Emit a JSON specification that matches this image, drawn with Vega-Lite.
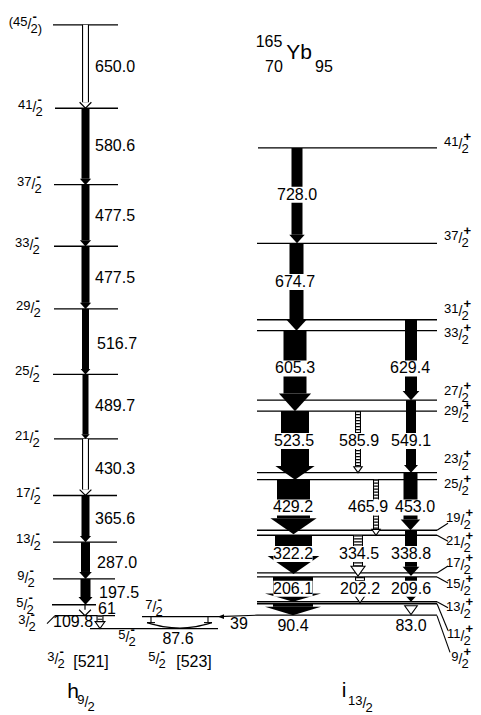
{
  "$schema": "https://vega.github.io/schema/vega-lite/v6.json",
  "width": 481,
  "height": 715,
  "autosize": {"type": "fit", "contains": "padding"},
  "padding": 0,
  "background": "white",
  "config": {"view": {"stroke": null}, "font": "Liberation Sans", "text": {"font": "Liberation Sans"}},
  "resolve": {"scale": {"strokeWidth": "independent", "size": "independent", "shape": "independent"}},
  "datasets": {
    "levels": [
      {"x1": 53, "x2": 118, "y": 25}, {"x1": 55, "x2": 118, "y": 109}, {"x1": 54, "x2": 118, "y": 186},
      {"x1": 54, "x2": 118, "y": 248}, {"x1": 54, "x2": 118, "y": 311}, {"x1": 53, "x2": 118, "y": 377},
      {"x1": 54, "x2": 118, "y": 442}, {"x1": 53, "x2": 117, "y": 499}, {"x1": 53, "x2": 117, "y": 546},
      {"x1": 53, "x2": 115, "y": 583}, {"x1": 52, "x2": 96, "y": 609}, {"x1": 55, "x2": 115, "y": 620},
      {"x1": 90, "x2": 218, "y": 633}, {"x1": 142, "x2": 218, "y": 621},
      {"x1": 258, "x2": 437, "y": 149}, {"x1": 257, "x2": 437, "y": 245}, {"x1": 257, "x2": 437, "y": 322},
      {"x1": 257, "x2": 437, "y": 333}, {"x1": 257, "x2": 437, "y": 403}, {"x1": 257, "x2": 437, "y": 414},
      {"x1": 257, "x2": 437, "y": 476}, {"x1": 257, "x2": 437, "y": 483}, {"x1": 257, "x2": 437, "y": 534},
      {"x1": 257, "x2": 437, "y": 539}, {"x1": 257, "x2": 437, "y": 577}, {"x1": 257, "x2": 437, "y": 581},
      {"x1": 257, "x2": 437, "y": 606}, {"x1": 257, "x2": 437, "y": 608}, {"x1": 257, "x2": 437, "y": 619.5}
    ],
    "segments": [
      {"x": 437, "y": 534, "x2": 448, "y2": 527}, {"x": 437, "y": 539, "x2": 448, "y2": 545},
      {"x": 437, "y": 577, "x2": 448, "y2": 570}, {"x": 437, "y": 581, "x2": 448, "y2": 587},
      {"x": 437, "y": 606, "x2": 448, "y2": 612}, {"x": 437, "y": 608, "x2": 448, "y2": 635},
      {"x": 437, "y": 620, "x2": 450, "y2": 657}, {"x": 47, "y": 628, "x2": 55, "y2": 620},
      {"x": 218, "y": 621, "x2": 257, "y2": 619.5},
      {"x": 151, "y": 621, "x2": 151, "y2": 627}, {"x": 208, "y": 621, "x2": 208, "y2": 627},
      {"x": 147, "y": 627, "x2": 155, "y2": 627}, {"x": 204, "y": 627, "x2": 212, "y2": 627}
    ],
    "curve": [
      {"i": 0, "x": 147, "y": 627}, {"i": 1, "x": 163, "y": 631}, {"i": 2, "x": 180, "y": 632.5},
      {"i": 3, "x": 196, "y": 631}, {"i": 4, "x": 212, "y": 627}
    ],
    "ptr": [{"x": 218, "y": 621}],
    "gammas": [
      {"x": 85.5, "y1": 25, "yb": 103, "I": 7, "type": "hollow", "hd": "v", "E": "650.0", "lx": 95, "ly": 67, "band": "h"},
      {"x": 85.5, "y1": 109, "yb": 180, "I": 8, "type": "solid", "hd": "tri", "E": "580.6", "lx": 95, "ly": 147, "band": "h"},
      {"x": 85.5, "y1": 186, "yb": 242, "I": 8, "type": "solid", "hd": "tri", "E": "477.5", "lx": 95, "ly": 218, "band": "h"},
      {"x": 85.5, "y1": 248, "yb": 305, "I": 8, "type": "solid", "hd": "tri", "E": "477.5", "lx": 95, "ly": 280, "band": "h"},
      {"x": 85.5, "y1": 311, "yb": 371.6, "I": 7, "type": "solid", "hd": "tri", "E": "516.7", "lx": 97, "ly": 346, "band": "h"},
      {"x": 85.5, "y1": 377, "yb": 437.4, "I": 6, "type": "solid", "hd": "tri", "E": "489.7", "lx": 95, "ly": 409, "band": "h"},
      {"x": 85.5, "y1": 442, "yb": 493, "I": 7, "type": "hollow", "hd": "v", "E": "430.3", "lx": 95, "ly": 472, "band": "h"},
      {"x": 85.5, "y1": 499, "yb": 539.8, "I": 8, "type": "solid", "hd": "tri", "E": "365.6", "lx": 95, "ly": 523, "band": "h"},
      {"x": 85.5, "y1": 546, "yb": 576, "I": 9, "type": "solid", "hd": "tri", "E": "287.0", "lx": 97, "ly": 567, "band": "h"},
      {"x": 85.5, "y1": 583, "yb": 601.3, "I": 10, "type": "solid", "hd": "tri", "E": "197.5", "lx": 99, "ly": 597, "band": "h"},
      {"x": 85, "y1": 609, "yb": 614, "I": 7, "type": "thin", "hd": "v", "E": "61", "lx": 98, "ly": 613, "band": "h"},
      {"x": 100, "y1": 620, "yb": 626, "I": 7, "type": "hatched", "hd": "open", "E": "109.8", "lx": 53, "ly": 626, "band": "h"},
      {"x": 297, "y1": 149, "yb": 236.5, "I": 11, "type": "solid", "hd": "tri", "E": "728.0", "lx": 297, "ly": 196, "band": "i"},
      {"x": 296.5, "y1": 245, "yb": 322.2, "I": 14, "type": "solid", "hd": "tri", "E": "674.7", "lx": 295, "ly": 284, "band": "i"},
      {"x": 295, "y1": 333, "yb": 396.3, "I": 23, "type": "solid", "hd": "tri", "E": "605.3", "lx": 295, "ly": 371, "band": "i"},
      {"x": 295, "y1": 414, "yb": 469.3, "I": 28, "type": "solid", "hd": "wide", "E": "523.5", "lx": 294, "ly": 444, "band": "i"},
      {"x": 293.5, "y1": 483, "yb": 521.8, "I": 33, "type": "solid", "hd": "wide", "E": "429.2", "lx": 293, "ly": 511, "band": "i"},
      {"x": 293.5, "y1": 539, "yb": 559.9, "I": 37, "type": "solid", "hd": "wide", "E": "322.2", "lx": 293, "ly": 558, "band": "i"},
      {"x": 293, "y1": 581, "yb": 597.6, "I": 40, "type": "solid", "hd": "flat", "E": "206.1", "lx": 293, "ly": 593, "band": "i"},
      {"x": 293, "y1": 608, "yb": 611, "I": 40, "type": "solid", "hd": "flat", "E": "90.4", "lx": 293, "ly": 630, "band": "i"},
      {"x": 411, "y1": 322, "yb": 393.8, "I": 12, "type": "solid", "hd": "tri", "E": "629.4", "lx": 410, "ly": 371, "band": "i"},
      {"x": 411, "y1": 403, "yb": 468.3, "I": 10, "type": "solid", "hd": "tri", "E": "549.1", "lx": 411, "ly": 444, "band": "i"},
      {"x": 410.5, "y1": 476, "yb": 523.2, "I": 14, "type": "solid", "hd": "tri", "E": "453.0", "lx": 415, "ly": 511, "band": "i"},
      {"x": 411, "y1": 534, "yb": 570.8, "I": 12, "type": "solid", "hd": "tri", "E": "338.8", "lx": 411, "ly": 558, "band": "i"},
      {"x": 411, "y1": 581, "yb": 596.8, "I": 12, "type": "solid", "hd": "tri", "E": "209.6", "lx": 411, "ly": 593, "band": "i"},
      {"x": 411, "y1": 608, "yb": 610, "I": 9, "type": "none", "hd": "open", "E": "83.0", "lx": 411, "ly": 630, "band": "i"},
      {"x": 358, "y1": 414, "yb": 470.1, "I": 6, "type": "hatched", "hd": "open", "E": "585.9", "lx": 359, "ly": 444, "band": "i"},
      {"x": 376, "y1": 483, "yb": 533.1, "I": 6, "type": "hatched", "hd": "open", "E": "465.9", "lx": 368, "ly": 511, "band": "i"},
      {"x": 358, "y1": 539, "yb": 570.2, "I": 10, "type": "hatched", "hd": "open", "E": "334.5", "lx": 359, "ly": 558, "band": "i"},
      {"x": 360, "y1": 581, "yb": 597.2, "I": 10, "type": "hatched", "hd": "open", "E": "202.2", "lx": 360, "ly": 593, "band": "i"},
      {"x": 180, "y1": 621, "yb": 627, "I": 1, "type": "none", "hd": "none", "E": "87.6", "lx": 178, "ly": 643, "band": "g"},
      {"x": 240, "y1": 620, "yb": 620, "I": 1, "type": "none", "hd": "none", "E": "39", "lx": 239, "ly": 628, "band": "g"}
    ],
    "spins": [
      {"s": 29, "y": 25, "n": "(45", "d": "2)", "g": "-"},
      {"s": 34, "y": 109, "n": "41", "d": "2", "g": "-"},
      {"s": 33, "y": 186, "n": "37", "d": "2", "g": "-"},
      {"s": 31, "y": 248, "n": "33", "d": "2", "g": "-"},
      {"s": 32, "y": 311, "n": "29", "d": "2", "g": "-"},
      {"s": 31, "y": 377, "n": "25", "d": "2", "g": "-"},
      {"s": 31, "y": 442, "n": "21", "d": "2", "g": "-"},
      {"s": 32, "y": 499, "n": "17", "d": "2", "g": "-"},
      {"s": 32, "y": 546, "n": "13", "d": "2", "g": "-"},
      {"s": 26, "y": 583, "n": "9", "d": "2", "g": "-"},
      {"s": 25, "y": 610, "n": "5", "d": "2", "g": "-"},
      {"s": 27, "y": 627, "n": "3", "d": "2", "g": "-"},
      {"s": 56, "y": 665, "n": "3", "d": "2", "g": "-"},
      {"s": 157, "y": 665, "n": "5", "d": "2", "g": "-"},
      {"s": 127, "y": 642, "n": "5", "d": "2", "g": "-"},
      {"s": 154, "y": 612, "n": "7", "d": "2", "g": "-"},
      {"s": 86, "y": 708, "n": "9", "d": "2", "g": ""},
      {"s": 364, "y": 709, "n": "13", "d": "2", "g": ""},
      {"s": 460, "y": 146, "n": "41", "d": "2", "g": "+"},
      {"s": 460, "y": 241, "n": "37", "d": "2", "g": "+"},
      {"s": 460, "y": 314, "n": "31", "d": "2", "g": "+"},
      {"s": 460, "y": 338, "n": "33", "d": "2", "g": "+"},
      {"s": 460, "y": 397, "n": "27", "d": "2", "g": "+"},
      {"s": 460, "y": 417, "n": "29", "d": "2", "g": "+"},
      {"s": 460, "y": 465, "n": "23", "d": "2", "g": "+"},
      {"s": 460, "y": 490, "n": "25", "d": "2", "g": "+"},
      {"s": 462, "y": 525, "n": "19", "d": "2", "g": "+"},
      {"s": 462, "y": 548, "n": "21", "d": "2", "g": "+"},
      {"s": 462, "y": 570, "n": "17", "d": "2", "g": "+"},
      {"s": 462, "y": 591, "n": "15", "d": "2", "g": "+"},
      {"s": 462, "y": 614, "n": "13", "d": "2", "g": "+"},
      {"s": 462, "y": 641, "n": "11", "d": "2", "g": "+"},
      {"s": 460, "y": 665, "n": "9", "d": "2", "g": "+"}
    ],
    "texts": [
      {"x": 269, "y": 42, "t": "165", "k": "s"},
      {"x": 274, "y": 67, "t": "70", "k": "s"},
      {"x": 299, "y": 53, "t": "Yb", "k": "b"},
      {"x": 324, "y": 67, "t": "95", "k": "s"},
      {"x": 91, "y": 667, "t": "[521]", "k": "s"},
      {"x": 194, "y": 667, "t": "[523]", "k": "s"},
      {"x": 73, "y": 697, "t": "h", "k": "b"},
      {"x": 344, "y": 696, "t": "i", "k": "b"}
    ]
  },
  "layer": [
    {
      "data": {"name": "levels"},
      "mark": {"type": "rule", "color": "black", "strokeWidth": 1.3},
      "encoding": {
        "x": {"field": "x1", "type": "quantitative", "scale": {"domain": [0, 481], "nice": false, "zero": false}, "axis": null},
        "x2": {"field": "x2"},
        "y": {"field": "y", "type": "quantitative", "scale": {"domain": [0, 715], "reverse": true, "nice": false, "zero": false}, "axis": null}
      }
    },
    {
      "data": {"name": "segments"},
      "mark": {"type": "rule", "color": "black", "strokeWidth": 1.1},
      "encoding": {
        "x": {"field": "x", "type": "quantitative", "scale": {"domain": [0, 481], "nice": false, "zero": false}, "axis": null},
        "x2": {"field": "x2"},
        "y": {"field": "y", "type": "quantitative", "scale": {"domain": [0, 715], "reverse": true, "nice": false, "zero": false}, "axis": null},
        "y2": {"field": "y2"}
      }
    },
    {
      "data": {"name": "curve"},
      "mark": {"type": "line", "color": "black", "strokeWidth": 1.1, "interpolate": "monotone"},
      "encoding": {
        "x": {"field": "x", "type": "quantitative", "scale": {"domain": [0, 481], "nice": false, "zero": false}, "axis": null},
        "y": {"field": "y", "type": "quantitative", "scale": {"domain": [0, 715], "reverse": true, "nice": false, "zero": false}, "axis": null},
        "order": {"field": "i", "type": "quantitative"}
      }
    },
    {
      "data": {"name": "ptr"},
      "mark": {"type": "point", "filled": true, "opacity": 1, "color": "black", "size": 36, "shape": "M0,0L2,-0.8L2,0.8Z"},
      "encoding": {
        "x": {"field": "x", "type": "quantitative", "scale": {"domain": [0, 481], "nice": false, "zero": false}, "axis": null},
        "y": {"field": "y", "type": "quantitative", "scale": {"domain": [0, 715], "reverse": true, "nice": false, "zero": false}, "axis": null}
      }
    },
    {
      "data": {"name": "gammas"},
      "transform": [{"filter": "datum.type == 'solid' || datum.type == 'hollow' || datum.type == 'hatched'"}],
      "mark": {"type": "rule", "color": "black", "strokeCap": "butt"},
      "encoding": {
        "x": {"field": "x", "type": "quantitative", "scale": {"domain": [0, 481], "nice": false, "zero": false}, "axis": null},
        "y": {"field": "y1", "type": "quantitative", "scale": {"domain": [0, 715], "reverse": true, "nice": false, "zero": false}, "axis": null},
        "y2": {"field": "yb"},
        "strokeWidth": {"field": "I", "type": "quantitative", "scale": {"type": "linear", "domain": [0, 60], "range": [0, 60], "zero": false, "nice": false}, "legend": null}
      }
    },
    {
      "data": {"name": "gammas"},
      "transform": [{"filter": "datum.type == 'hollow' || datum.type == 'hatched'"}],
      "mark": {"type": "rule", "color": "white", "strokeCap": "butt"},
      "encoding": {
        "x": {"field": "x", "type": "quantitative", "scale": {"domain": [0, 481], "nice": false, "zero": false}, "axis": null},
        "y": {"field": "y1", "type": "quantitative", "scale": {"domain": [0, 715], "reverse": true, "nice": false, "zero": false}, "axis": null},
        "y2": {"field": "yb"},
        "strokeWidth": {"field": "I", "type": "quantitative", "scale": {"type": "linear", "domain": [0, 60], "range": [-2.2, 57.8], "zero": false, "nice": false}, "legend": null}
      }
    },
    {
      "data": {"name": "gammas"},
      "transform": [{"filter": "datum.type == 'hatched'"}],
      "mark": {"type": "rule", "color": "black", "strokeCap": "butt", "strokeDash": [1.2, 1.8]},
      "encoding": {
        "x": {"field": "x", "type": "quantitative", "scale": {"domain": [0, 481], "nice": false, "zero": false}, "axis": null},
        "y": {"field": "y1", "type": "quantitative", "scale": {"domain": [0, 715], "reverse": true, "nice": false, "zero": false}, "axis": null},
        "y2": {"field": "yb"},
        "strokeWidth": {"field": "I", "type": "quantitative", "scale": {"type": "linear", "domain": [0, 60], "range": [-2.2, 57.8], "zero": false, "nice": false}, "legend": null}
      }
    },
    {
      "data": {"name": "gammas"},
      "transform": [{"filter": "datum.type == 'thin'"}],
      "mark": {"type": "rule", "color": "black", "strokeWidth": 1.2},
      "encoding": {
        "x": {"field": "x", "type": "quantitative", "scale": {"domain": [0, 481], "nice": false, "zero": false}, "axis": null},
        "y": {"field": "y1", "type": "quantitative", "scale": {"domain": [0, 715], "reverse": true, "nice": false, "zero": false}, "axis": null},
        "y2": {"field": "yb"}
      }
    },
    {
      "data": {"name": "gammas"},
      "transform": [{"filter": "datum.hd == 'tri' || datum.hd == 'wide' || datum.hd == 'flat'"}],
      "mark": {"type": "point", "filled": true, "opacity": 1, "color": "black", "strokeWidth": 0},
      "encoding": {
        "x": {"field": "x", "type": "quantitative", "scale": {"domain": [0, 481], "nice": false, "zero": false}, "axis": null},
        "y": {"field": "yb", "type": "quantitative", "scale": {"domain": [0, 715], "reverse": true, "nice": false, "zero": false}, "axis": null},
        "size": {"field": "I", "type": "quantitative", "scale": {"type": "pow", "exponent": 2, "domain": [0, 60], "range": [0, 7056], "zero": false, "nice": false}, "legend": null},
        "shape": {"field": "hd", "type": "nominal", "scale": {"domain": ["tri", "wide", "flat"], "range": ["M-1,0L1,0L0,1.1Z", "M-1,0L1,0L0,0.7Z", "M-1,0L1,0L0,0.3Z"]}, "legend": null}
      }
    },
    {
      "data": {"name": "gammas"},
      "transform": [{"filter": "datum.hd == 'open'"}],
      "mark": {"type": "point", "filled": false, "opacity": 1, "fill": "white", "stroke": "black", "strokeWidth": 1.1, "shape": "M-1,0L1,0L0,1.4Z"},
      "encoding": {
        "x": {"field": "x", "type": "quantitative", "scale": {"domain": [0, 481], "nice": false, "zero": false}, "axis": null},
        "y": {"field": "yb", "type": "quantitative", "scale": {"domain": [0, 715], "reverse": true, "nice": false, "zero": false}, "axis": null},
        "size": {"field": "I", "type": "quantitative", "scale": {"type": "pow", "exponent": 2, "domain": [0, 60], "range": [0, 7056], "zero": false, "nice": false}, "legend": null}
      }
    },
    {
      "data": {"name": "gammas"},
      "transform": [{"filter": "datum.hd == 'v'"}],
      "mark": {"type": "point", "filled": false, "opacity": 1, "fill": null, "stroke": "black", "strokeWidth": 1.2, "shape": "M-1.2,0L0,1.2L1.2,0"},
      "encoding": {
        "x": {"field": "x", "type": "quantitative", "scale": {"domain": [0, 481], "nice": false, "zero": false}, "axis": null},
        "y": {"field": "yb", "type": "quantitative", "scale": {"domain": [0, 715], "reverse": true, "nice": false, "zero": false}, "axis": null},
        "size": {"field": "I", "type": "quantitative", "scale": {"type": "pow", "exponent": 2, "domain": [0, 60], "range": [0, 7056], "zero": false, "nice": false}, "legend": null}
      }
    },
    {
      "data": {"name": "gammas"},
      "transform": [{"filter": "datum.band == 'i'"}],
      "mark": {"type": "point", "filled": true, "opacity": 1, "color": "white", "strokeWidth": 0, "size": 256, "shape": "M-2.45,-1L2.45,-1L2.45,1L-2.45,1Z"},
      "encoding": {
        "x": {"field": "lx", "type": "quantitative", "scale": {"domain": [0, 481], "nice": false, "zero": false}, "axis": null},
        "y": {"field": "ly", "type": "quantitative", "scale": {"domain": [0, 715], "reverse": true, "nice": false, "zero": false}, "axis": null}
      }
    },
    {
      "data": {"name": "gammas"},
      "transform": [{"filter": "datum.band == 'i' || datum.band == 'g'"}],
      "mark": {"type": "text", "fontSize": 16, "align": "center", "baseline": "middle", "color": "black"},
      "encoding": {
        "x": {"field": "lx", "type": "quantitative", "scale": {"domain": [0, 481], "nice": false, "zero": false}, "axis": null},
        "y": {"field": "ly", "type": "quantitative", "scale": {"domain": [0, 715], "reverse": true, "nice": false, "zero": false}, "axis": null},
        "text": {"field": "E"}
      }
    },
    {
      "data": {"name": "gammas"},
      "transform": [{"filter": "datum.band == 'h'"}],
      "mark": {"type": "text", "fontSize": 16, "align": "left", "baseline": "middle", "color": "black"},
      "encoding": {
        "x": {"field": "lx", "type": "quantitative", "scale": {"domain": [0, 481], "nice": false, "zero": false}, "axis": null},
        "y": {"field": "ly", "type": "quantitative", "scale": {"domain": [0, 715], "reverse": true, "nice": false, "zero": false}, "axis": null},
        "text": {"field": "E"}
      }
    },
    {
      "data": {"name": "spins"},
      "mark": {"type": "text", "fontSize": 13, "align": "right", "baseline": "middle", "dx": -1.5, "dy": -3, "color": "black"},
      "encoding": {
        "x": {"field": "s", "type": "quantitative", "scale": {"domain": [0, 481], "nice": false, "zero": false}, "axis": null},
        "y": {"field": "y", "type": "quantitative", "scale": {"domain": [0, 715], "reverse": true, "nice": false, "zero": false}, "axis": null},
        "text": {"field": "n"}
      }
    },
    {
      "data": {"name": "spins"},
      "mark": {"type": "text", "fontSize": 14, "align": "center", "baseline": "middle", "dx": 0.5, "dy": 0, "color": "black"},
      "encoding": {
        "x": {"field": "s", "type": "quantitative", "scale": {"domain": [0, 481], "nice": false, "zero": false}, "axis": null},
        "y": {"field": "y", "type": "quantitative", "scale": {"domain": [0, 715], "reverse": true, "nice": false, "zero": false}, "axis": null},
        "text": {"value": "/"}
      }
    },
    {
      "data": {"name": "spins"},
      "mark": {"type": "text", "fontSize": 13, "align": "left", "baseline": "middle", "dx": 1.5, "dy": 4, "color": "black"},
      "encoding": {
        "x": {"field": "s", "type": "quantitative", "scale": {"domain": [0, 481], "nice": false, "zero": false}, "axis": null},
        "y": {"field": "y", "type": "quantitative", "scale": {"domain": [0, 715], "reverse": true, "nice": false, "zero": false}, "axis": null},
        "text": {"field": "d"}
      }
    },
    {
      "data": {"name": "spins"},
      "mark": {"type": "text", "fontSize": 13, "fontWeight": "bold", "align": "left", "baseline": "middle", "dx": 3.5, "dy": -8, "color": "black"},
      "encoding": {
        "x": {"field": "s", "type": "quantitative", "scale": {"domain": [0, 481], "nice": false, "zero": false}, "axis": null},
        "y": {"field": "y", "type": "quantitative", "scale": {"domain": [0, 715], "reverse": true, "nice": false, "zero": false}, "axis": null},
        "text": {"field": "g"}
      }
    },
    {
      "data": {"name": "texts"},
      "transform": [{"filter": "datum.k == 's'"}],
      "mark": {"type": "text", "fontSize": 16, "align": "center", "baseline": "middle", "color": "black"},
      "encoding": {
        "x": {"field": "x", "type": "quantitative", "scale": {"domain": [0, 481], "nice": false, "zero": false}, "axis": null},
        "y": {"field": "y", "type": "quantitative", "scale": {"domain": [0, 715], "reverse": true, "nice": false, "zero": false}, "axis": null},
        "text": {"field": "t"}
      }
    },
    {
      "data": {"name": "texts"},
      "transform": [{"filter": "datum.k == 'b'"}],
      "mark": {"type": "text", "fontSize": 21, "align": "center", "baseline": "middle", "color": "black"},
      "encoding": {
        "x": {"field": "x", "type": "quantitative", "scale": {"domain": [0, 481], "nice": false, "zero": false}, "axis": null},
        "y": {"field": "y", "type": "quantitative", "scale": {"domain": [0, 715], "reverse": true, "nice": false, "zero": false}, "axis": null},
        "text": {"field": "t"}
      }
    }
  ]
}
